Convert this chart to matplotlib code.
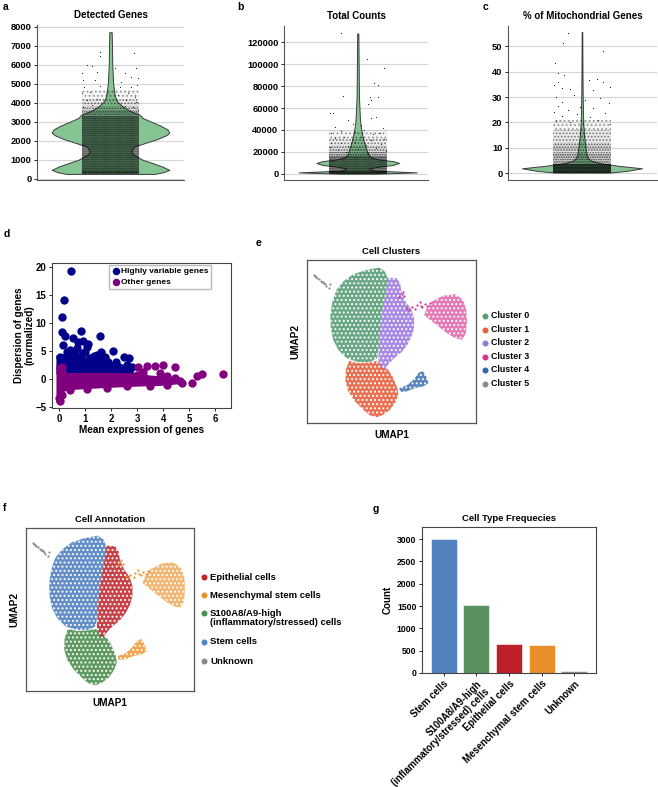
import matplotlib.pyplot as plt
import numpy as np
from matplotlib.patches import Polygon, Rectangle
from matplotlib.lines import Line2D
from matplotlib.colors import to_rgba

plt.rcParams['font.family'] = ['Liberation Sans', 'DejaVu Sans']
plt.rcParams['font.weight'] = 'bold'
plt.rcParams['axes.titleweight'] = 'bold'
plt.rcParams['axes.labelweight'] = 'bold'
plt.rcParams['hatch.linewidth'] = 0.9

# ---------------- a-c: QC violins (value, relative half width) ----------------
genes_val = [260, 350, 475, 650, 825, 1000, 1175, 1300, 1440, 1600, 1700, 1900, 2100, 2300,
             2430, 2600, 2800, 3000, 3200, 3370, 3550, 3800, 4050, 4330, 5030, 6000, 7000, 7720]
genes_width = [0.75, 0.9, 1.0, 0.88, 0.72, 0.55, 0.45, 0.38, 0.355, 0.38, 0.4, 0.6, 0.8, 0.95,
               1.0, 0.97, 0.85, 0.7, 0.55, 0.5, 0.35, 0.21, 0.12, 0.075, 0.045, 0.03, 0.025, 0.02]
# point density bands (value ranges, density level) and sparse outlier cells
genes_band_lo = [250, 250, 3300, 3550, 3850, 4200]
genes_band_hi = [3300, 420, 3550, 3850, 4200, 4700]
genes_band_dots = [6, 3, 4, 3, 2, 1]
genes_pts_x = [-0.072, -0.072, 0.160, -0.157, -0.128, 0.029, 0.175, -0.196, -0.094, 0.097,
               -0.184, -0.106, 0.074, 0.142, 0.187, -0.178, -0.072, 0.063, 0.142, 0.180,
               -0.191, -0.139, -0.027, 0.052, 0.119, 0.164, -0.162, -0.094, 0.108, 0.175,
               -0.184, -0.128, 0.097, 0.153, 0.187]
genes_pts_y = [6702, 6474, 6649, 6000, 5965, 5825, 5825, 5561, 5649, 5596,
               5211, 5211, 5123, 5351, 5298, 4860, 4895, 4825, 4860, 4947,
               4509, 4596, 4509, 4421, 4544, 4333, 4158, 4193, 4158, 4070,
               3807, 3895, 3842, 3772, 3632]

counts_val = [0, 1200, 2800, 4000, 4900, 6400, 8000, 9800, 11500, 13000, 15000, 18000,
              23000, 30000, 37000, 45000, 52000, 70000, 98000, 128000]
counts_width = [0.3, 1.0, 0.3, 0.2, 0.2, 0.35, 0.6, 0.7, 0.6, 0.35, 0.22, 0.17,
                0.14, 0.1, 0.07, 0.045, 0.035, 0.02, 0.015, 0.01]
counts_band_lo = [0, 0, 16000, 20000, 25000, 32000]
counts_band_hi = [16000, 2800, 20000, 25000, 32000, 40000]
counts_band_dots = [6, 5, 4, 3, 2, 1]
counts_pts_x = [-0.117, 0.063, 0.180, 0.112, 0.139, -0.101, 0.085, 0.135, 0.090, 0.072,
                -0.191, -0.169, 0.124, 0.090, -0.067, -0.034, 0.022, -0.157, 0.169, 0.045,
                -0.112, -0.022, -0.180, 0.101, 0.153, -0.090, 0.022, -0.157, 0.180, 0.090,
                -0.022, -0.112, -0.180, 0.157, 0.056, -0.067, -0.191, 0.124, 0.000, -0.135,
                0.191, -0.079, 0.067]
counts_pts_y = [128223, 104467, 96244, 82538, 81015, 70964, 70355, 69746, 67310, 63655,
                55736, 55127, 52081, 50558, 49036, 45381, 44467, 42944, 41421, 39898,
                39289, 38376, 36853, 36244, 37462, 33807, 33198, 32284, 31371, 30761,
                29239, 28325, 27716, 27107, 26193, 25279, 24061, 23147, 22234, 21624,
                21015, 20102, 19188]

mito_val = [0.3, 1.0, 2.0, 3.0, 4.0, 5.0, 6.0, 7.0, 10, 15, 20, 30, 40, 55.5]
mito_width = [0.45, 0.75, 1.0, 0.6, 0.3, 0.15, 0.1, 0.08, 0.06, 0.035, 0.02, 0.012, 0.008, 0.005]
mito_band_lo = [0.3, 3.5, 8, 12, 17]
mito_band_hi = [3.5, 8, 12, 17, 21]
mito_band_dots = [9, 4, 3, 2, 1]
mito_pts_x = [-0.096, -0.125, 0.139, -0.181, -0.163, -0.121, 0.049, 0.098, 0.143, 0.188,
              -0.159, -0.188, -0.136, -0.080, 0.076, -0.054, -0.174, 0.121, 0.020, -0.130,
              0.177, -0.159, -0.013, 0.076, -0.092, -0.188, 0.154, -0.036, -0.136, 0.054,
              0.109, -0.170, -0.080, 0.009, 0.188]
mito_pts_y = [55.2, 51.3, 48.0, 43.5, 39.5, 38.6, 36.7, 36.9, 36.0, 33.8,
              36.0, 34.7, 33.4, 33.0, 32.7, 30.8, 30.1, 29.5, 28.8, 28.1,
              27.5, 26.4, 26.2, 25.5, 24.9, 24.2, 23.8, 23.3, 22.5, 22.0,
              20.9, 20.7, 20.2, 19.6, 19.4]

# ---------------- d: gene dispersion ----------------
hv_x = [0.46, 0.19, 0.13, 0.13, 0.23, 0.14, 0.52, 0.84, 0.91, 1.10, 1.57, 0.42, 0.68, 1.00,
        1.36, 1.57, 1.61, 2.08, 1.25, 1.89, 1.96, 2.31, 2.60, 2.49, 2.67, 2.79, 0.81, 0.55,
        1.06, 0.74, 1.19, 1.76, 0.93, 0.36, 0.04, 0.30, 1.45, 2.20, 0.62]
hv_y = [19.41, 14.12, 11.10, 8.43, 7.66, 6.05, 7.30, 8.55, 6.77, 6.29, 7.66, 5.16, 5.46, 4.87,
        4.09, 3.38, 4.87, 5.04, 3.38, 3.09, 1.90, 2.20, 2.49, 3.86, 3.68, 2.20, 3.98, 4.27,
        5.76, 6.65, 3.68, 3.86, 4.57, 3.98, 3.86, 4.9, 4.3, 3.1, 4.9]
hv_core = [(-0.1, 0.8), (-0.1, 4.2), (0.3, 4.5), (0.7, 4.2), (1.0, 3.9), (1.5, 3.4),
           (2.0, 2.9), (2.5, 2.5), (2.8, 2.0), (2.9, 0.8)]
other_x = [3.04, 3.36, 3.68, 4.00, 4.45, 2.98, 3.24, 3.87, 4.13, 4.45, 4.64, 4.71, 5.09, 5.28,
           5.47, 6.28, 0.04, 0.10, 0.04, 0.01, 0.10, 0.42, 1.06, 1.83, 2.60, 3.49, 4.13, 3.75,
           3.11, 2.28]
other_y = [2.20, 2.31, 2.31, 2.49, 2.08, 0.71, 1.31, 1.01, 0.53, 0.12, -0.47, -0.77, -0.77, 0.59,
           0.89, 0.89, 1.90, 2.20, -4.04, -3.44, -2.85, -1.96, -1.84, -1.66, -1.37, -1.25, -1.07,
           -0.18, 0.12, -0.18]
other_core = [(-0.1, -4.3), (0.14, -4.3), (0.2, -2.3), (0.5, -2.0), (1.0, -1.85), (2.0, -1.6),
              (3.0, -1.4), (4.0, -1.25), (4.75, -0.9), (4.75, -0.3), (4.3, 0.3), (3.5, 0.6),
              (3.0, 1.0), (2.0, 1.05), (0.3, 1.05), (0.2, 2.4), (-0.1, 2.4)]

# ---------------- e/f: UMAP cluster outlines ----------------
cluster0_outline = [(7.2, 15.57), (5.93, 15.33), (4.6, 14.9), (3.6, 14.17), (2.93, 13.33),
                    (2.53, 12.17), (2.33, 10.83), (2.37, 9.5), (2.6, 8.33), (3.1, 7.33),
                    (3.93, 6.5), (5.1, 6.1), (6.27, 6.1), (7.0, 6.5), (7.17, 7.83), (7.27, 9.17),
                    (7.37, 10.5), (7.6, 11.83), (7.87, 13.17), (8.1, 14.33), (7.77, 15.17)]
cluster1_outline = [(4.2, 6.23), (5.1, 6.0), (6.27, 6.07), (7.0, 6.23), (7.53, 5.67), (8.1, 5.33),
                    (8.6, 4.5), (9.0, 3.5), (9.1, 2.83), (8.77, 2.0), (8.27, 1.33), (7.6, 0.83),
                    (7.0, 0.57), (6.27, 0.77), (5.6, 1.33), (4.77, 2.17), (4.1, 3.17),
                    (3.83, 4.17), (3.87, 5.33)]
cluster2_outline = [(8.1, 14.57), (8.93, 14.5), (9.27, 14.0), (9.43, 13.0), (9.87, 12.1),
                    (10.37, 11.43), (10.67, 10.5), (10.67, 9.57), (10.43, 8.67), (10.0, 7.83),
                    (9.43, 7.1), (8.77, 6.57), (8.2, 6.0), (7.67, 5.33), (7.33, 5.67), (7.1, 6.33),
                    (7.17, 7.83), (7.27, 9.17), (7.37, 10.5), (7.6, 11.83), (7.87, 13.17)]
cluster3_outline = [(12.43, 12.17), (13.6, 12.77), (14.77, 12.9), (15.53, 12.33), (15.87, 11.33),
                    (15.93, 10.17), (15.83, 9.0), (15.43, 8.33), (14.77, 8.5), (13.93, 9.0),
                    (13.1, 9.67), (12.27, 10.33), (11.67, 10.83), (11.93, 11.5)]
cluster4_outline = [(9.2, 3.5), (9.93, 3.77), (10.6, 4.33), (11.1, 5.0), (11.53, 5.23),
                    (11.87, 4.67), (12.1, 4.0), (11.6, 3.67), (10.77, 3.5), (9.93, 3.17), (9.27, 3.1)]
cluster3_trail_u1 = [10.0, 10.43, 10.93, 11.33, 11.77, 12.2, 10.77, 11.27, 9.43, 9.67, 9.53, 9.2,
                     10.2, 11.5, 12.0]
cluster3_trail_u2 = [11.5, 11.67, 11.83, 11.77, 11.97, 12.0, 11.43, 12.17, 12.9, 12.77, 13.1, 12.63,
                     11.35, 11.6, 11.75]
cluster5_u1 = [0.67, 0.8, 0.93, 1.03, 1.17, 1.37, 1.47, 1.6, 1.7, 1.8, 1.93, 2.2, 2.27]
cluster5_u2 = [14.83, 14.77, 14.63, 14.53, 14.43, 14.27, 14.17, 14.1, 14.0, 13.97, 13.77, 13.5, 13.9]
cluster_fill = [0.9, 0.9, 0.85, 0.65, 0.8]

cluster_names = ['Cluster 0', 'Cluster 1', 'Cluster 2', 'Cluster 3', 'Cluster 4', 'Cluster 5']
cluster_colors = ['#5a9f78', '#e5623f', '#9a75df', '#d4338e', '#3166ae', '#8a8a8a']

cell_types = ['Epithelial cells', 'Mesenchymal stem cells',
              'S100A8/A9-high\n(inflammatory/stressed) cells', 'Stem cells', 'Unknown']
cell_type_colors = ['#bf2129', '#ec9026', '#4f8f52', '#5282c0', '#8a8a8a']
# cluster -> cell type index
cluster_to_type = [3, 2, 0, 1, 1, 4]

# ---------------- g: cell type frequencies ----------------
bar_labels = ['Stem cells', 'S100A8/A9-high\n(inflammatory/stressed) cells', 'Epithelial cells',
              'Mesenchymal stem cells', 'Unknown']
bar_counts = [3000, 1520, 650, 620, 40]
bar_colors = ['#5282c0', '#5a9160', '#bd2028', '#e88f2a', '#8a8a8a']

W, H = 658, 787
fig = plt.figure(figsize=(W / 100, H / 100), dpi=100)


def px_axes(left, top, right, bottom):
    return fig.add_axes([left / W, 1 - bottom / H, (right - left) / W, (bottom - top) / H])


def fig_text(x, y, s, **kw):
    fig.text(x / W, 1 - y / H, s, **kw)


def violin_panel(ax, title, vals, widths, band_lo, band_hi, band_dots, pts_x, pts_y,
                 ticks, ylim, xlim):
    hw = 0.4 * np.asarray(widths)
    ax.fill_betweenx(vals, -hw, hw, facecolor='#86c494', edgecolor='#3c3c3c',
                     linewidth=0.7, zorder=2)
    # jittered cells: dotted bands whose darkness follows the local density
    for lo, hi, n in zip(band_lo, band_hi, band_dots):
        ax.add_patch(Rectangle((-0.196, lo), 0.392, hi - lo, facecolor=(0, 0, 0, 0.04 * n),
                               edgecolor=(0, 0, 0, min(1.0, 0.2 + 0.12 * n)), linewidth=0,
                               hatch='.' * (n + 3), zorder=3))
    ax.scatter(pts_x, pts_y, s=0.6, color='black', linewidths=0, zorder=3)
    ax.set_xlim(*xlim)
    ax.set_ylim(*ylim)
    ax.set_yticks(ticks)
    ax.set_xticks([])
    ax.yaxis.grid(True, color='#d6d6d6', linewidth=0.8)
    ax.set_axisbelow(True)
    for s in ['top', 'right']:
        ax.spines[s].set_visible(False)
    for s in ['left', 'bottom']:
        ax.spines[s].set_color('#555555')
        ax.spines[s].set_linewidth(0.8)
    ax.tick_params(axis='y', labelsize=6.7, length=2.5, width=0.6, pad=1.5)
    ax.set_title(title, fontsize=7, pad=5)


ax_a = px_axes(37, 25, 184, 180)
violin_panel(ax_a, 'Detected Genes', genes_val, genes_width, genes_band_lo, genes_band_hi,
             genes_band_dots, genes_pts_x, genes_pts_y, range(0, 8001, 1000), (-60, 8100), (-0.5, 0.5))
ax_b = px_axes(284, 26, 428, 180)
violin_panel(ax_b, 'Total Counts', counts_val, counts_width, counts_band_lo, counts_band_hi,
             counts_band_dots, counts_pts_x, counts_pts_y, range(0, 120001, 20000),
             (-5750, 134900), (-0.5, 0.476))
ax_c = px_axes(508, 26, 657, 180)
violin_panel(ax_c, '% of Mitochondrial Genes', mito_val, mito_width, mito_band_lo, mito_band_hi,
             mito_band_dots, mito_pts_x, mito_pts_y, range(0, 51, 10), (-2.6, 57.9), (-0.493, 0.5))

# ---- d ----
ax_d = px_axes(52, 263, 231, 408)
ax_d.add_patch(Polygon(hv_core, closed=True, facecolor='#00008b', edgecolor='none', zorder=2))
ax_d.scatter(hv_x, hv_y, s=36, color='#00008b', linewidths=0, zorder=2,
             label='Highly variable genes')
ax_d.add_patch(Polygon(other_core, closed=True, facecolor='#800080', edgecolor='none', zorder=3))
ax_d.scatter(other_x, other_y, s=36, color='#800080', linewidths=0, zorder=3, label='Other genes')
ax_d.set_xlim(-0.27, 6.6)
ax_d.set_ylim(-5.23, 20.77)
ax_d.set_xticks(range(0, 7))
ax_d.set_yticks(range(-5, 21, 5))
ax_d.tick_params(labelsize=6.9, length=2.5, width=0.6, pad=1.5)
for s in ax_d.spines.values():
    s.set_color('#444444')
    s.set_linewidth(0.8)
ax_d.set_xlabel('Mean expression of genes', fontsize=7.2, labelpad=1)
ax_d.set_ylabel('Dispersion of genes\n(normalized)', fontsize=7.2, labelpad=1, linespacing=1.0)
ax_d.legend(loc='upper right', bbox_to_anchor=(0.9, 1.0), fontsize=6.0, handletextpad=0.1,
            borderpad=0.35, labelspacing=0.35, handlelength=1.0, markerscale=0.9, fancybox=False,
            edgecolor='#bbbbbb', framealpha=1, borderaxespad=0.2)


# ---- e / f : UMAP ----
def umap_panel(ax, title, colors):
    outlines = [cluster0_outline, cluster1_outline, cluster2_outline, cluster3_outline,
                cluster4_outline]
    for outline, col, a in zip(outlines, colors, cluster_fill):
        ax.add_patch(Polygon(outline, closed=True, facecolor=to_rgba(col, a),
                             edgecolor='white', linewidth=0, hatch='....', zorder=2))
    ax.scatter(cluster3_trail_u1, cluster3_trail_u2, s=2.5, color=colors[3], linewidths=0, zorder=3)
    ax.scatter(cluster5_u1, cluster5_u2, s=2.5, color=colors[5], linewidths=0, zorder=3)
    ax.set_xlim(0, 16.83)
    ax.set_ylim(0, 16.33)
    ax.set_xticks([])
    ax.set_yticks([])
    for s in ax.spines.values():
        s.set_color('#555555')
        s.set_linewidth(0.9)
    ax.set_title(title, fontsize=6.8, pad=4)
    ax.set_xlabel('UMAP1', fontsize=7.2, labelpad=5)
    ax.set_ylabel('UMAP2', fontsize=7.2, labelpad=5)


def side_legend(x, ys, text_ys, labels, colors, size):
    for y, ty, lab, col in zip(ys, text_ys, labels, colors):
        fig.add_artist(Line2D([x / W], [1 - y / H], marker='o', markersize=3.3, color=col,
                              linestyle='none', transform=fig.transFigure))
        fig_text(x + 6, ty, lab, fontsize=size, va='center', ha='left', linespacing=1.05)


ax_e = px_axes(307, 260, 476, 423)
umap_panel(ax_e, 'Cell Clusters', cluster_colors)
rows_e = [316, 329.5, 343, 356.5, 370, 383.5]
side_legend(485, rows_e, rows_e, cluster_names, cluster_colors, 6.4)

ax_f = px_axes(26, 528, 194, 691)
type_colors_by_cluster = [cell_type_colors[i] for i in cluster_to_type]
umap_panel(ax_f, 'Cell Annotation', type_colors_by_cluster)
side_legend(204, [577, 595, 613, 642, 661], [577, 595, 618, 642, 661], cell_types,
            cell_type_colors, 6.8)

# ---- g ----
ax_g = px_axes(422, 527, 596, 673)
ax_g.bar(range(len(bar_counts)), bar_counts, width=0.8, color=bar_colors,
         edgecolor='white', linewidth=0.4)
ax_g.set_xlim(-0.66, 4.66)
ax_g.set_ylim(0, 3270)
ax_g.set_yticks(range(0, 3001, 500))
ax_g.set_xticks(range(len(bar_labels)), bar_labels, rotation=45, ha='right',
                rotation_mode='anchor', fontsize=6.9)
ax_g.tick_params(axis='y', labelsize=6.2)
ax_g.tick_params(length=2.5, width=0.6, pad=1.5)
for s in ax_g.spines.values():
    s.set_color('#444444')
    s.set_linewidth(0.8)
ax_g.set_ylabel('Count', fontsize=7, labelpad=3)
ax_g.set_title('Cell Type Frequecies', fontsize=6.8, pad=4)

# panel letters
for x, y, letter in [(3, 7, 'a'), (237, 7, 'b'), (483, 7, 'c'), (4, 234, 'd'),
                     (256, 243, 'e'), (3, 508, 'f'), (373, 509, 'g')]:
    fig_text(x, y, letter, fontsize=7.5, va='center', ha='left')

fig.savefig('out.png', dpi=100)
